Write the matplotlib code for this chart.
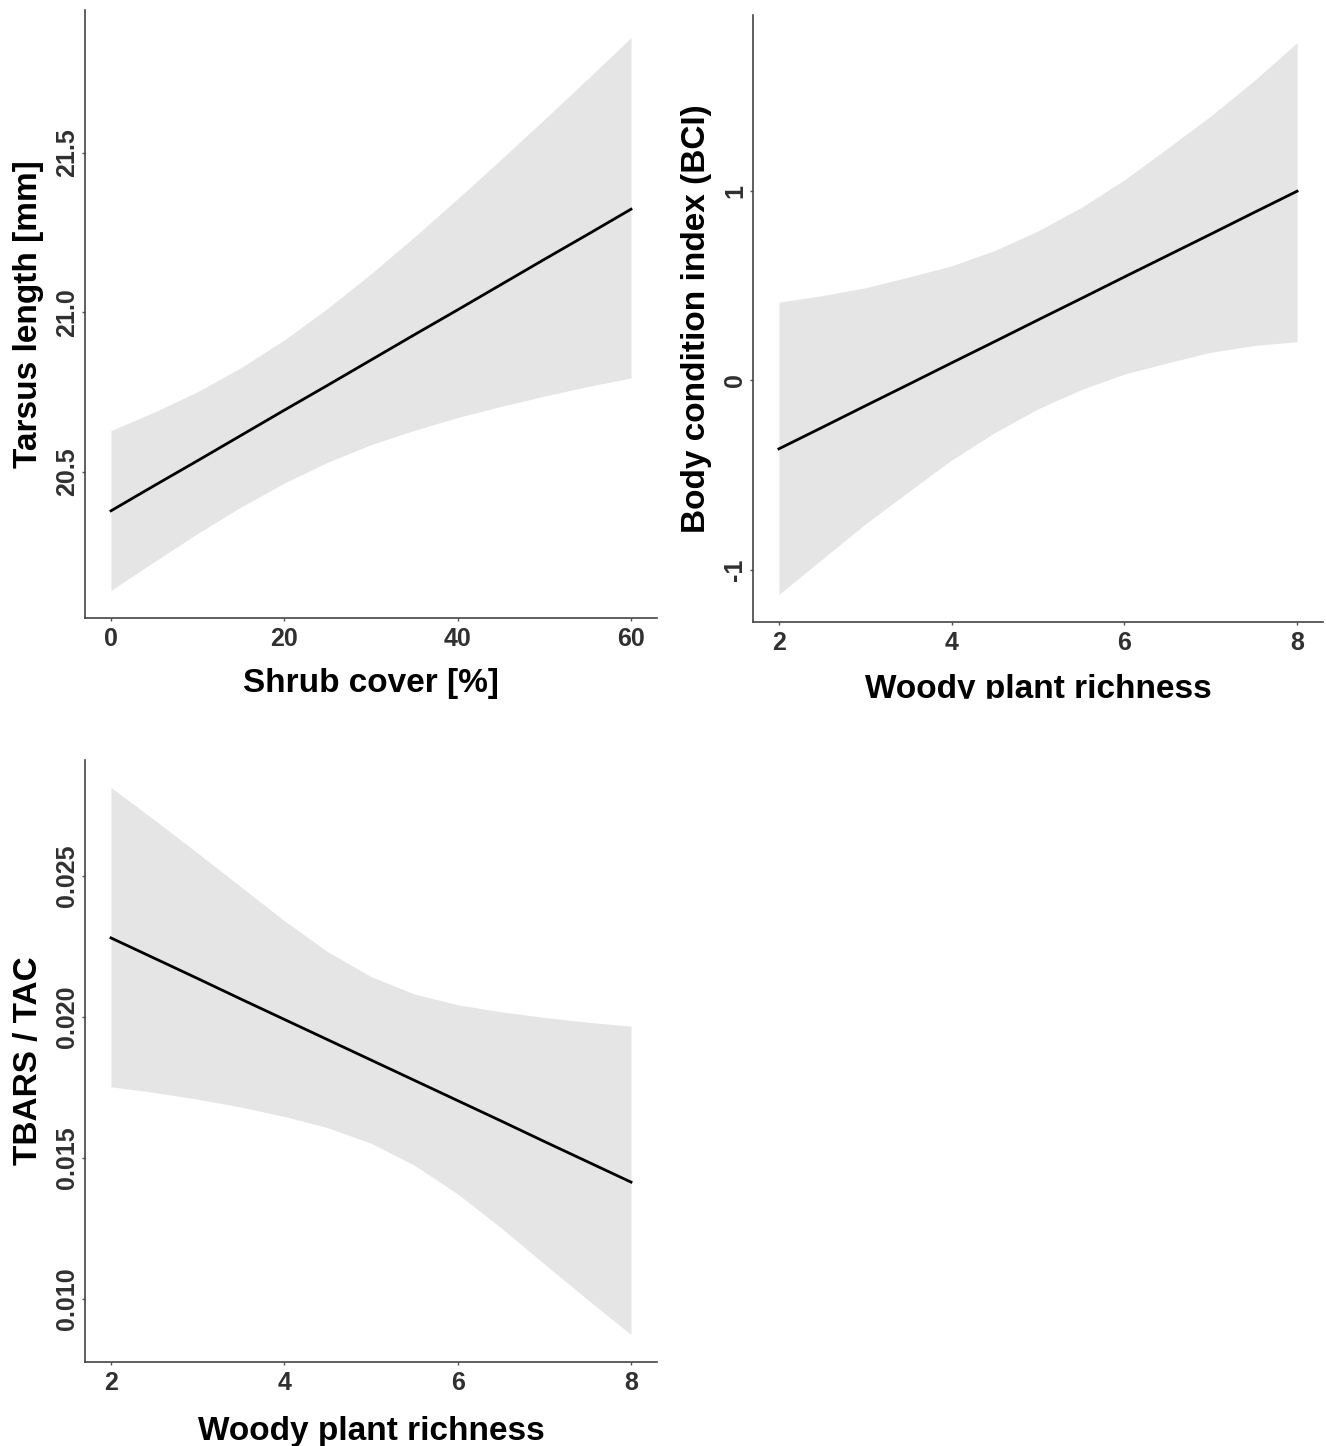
import matplotlib
matplotlib.use("Agg")
import matplotlib.pyplot as plt
from matplotlib.patches import Rectangle

plt.rcParams['font.family'] = ['Liberation Sans', 'DejaVu Sans']
plt.rcParams['font.weight'] = 'bold'

# Panel 1: tarsus length vs shrub cover
shrub_x = [0, 5, 10, 15, 20, 25, 30, 35, 40, 45, 50, 55, 60]
tarsus_fit = [20.379, 20.458, 20.536, 20.615, 20.694, 20.772, 20.851,
              20.930, 21.008, 21.087, 21.166, 21.244, 21.323]
tarsus_upper = [20.630, 20.688, 20.752, 20.827, 20.914, 21.013, 21.121,
                21.236, 21.356, 21.479, 21.604, 21.731, 21.860]
tarsus_lower = [20.130, 20.220, 20.308, 20.391, 20.466, 20.531, 20.586,
                20.631, 20.671, 20.706, 20.738, 20.768, 20.795]

# Panel 2: body condition vs woody plant richness
woody_x = [2, 2.5, 3, 3.5, 4, 4.5, 5, 5.5, 6, 6.5, 7, 7.5, 8]
bci_fit = [-0.361, -0.248, -0.134, -0.021, 0.093, 0.206, 0.320,
           0.433, 0.547, 0.660, 0.773, 0.887, 1.000]
bci_upper = [0.414, 0.448, 0.490, 0.546, 0.606, 0.687, 0.790,
             0.914, 1.060, 1.227, 1.397, 1.583, 1.785]
bci_lower = [-1.130, -0.944, -0.758, -0.588, -0.420, -0.275, -0.150,
             -0.048, 0.034, 0.093, 0.149, 0.185, 0.205]

# Panel 3: TBARS / TAC vs woody plant richness
tbars_fit = [0.02280, 0.02208, 0.02136, 0.02063, 0.01991, 0.01919, 0.01847,
             0.01775, 0.01703, 0.01631, 0.01558, 0.01486, 0.01414]
tbars_upper = [0.02814, 0.02699, 0.02581, 0.02461, 0.02341, 0.02231, 0.02143,
               0.02081, 0.02043, 0.02018, 0.01998, 0.01981, 0.01967]
tbars_lower = [0.01752, 0.01732, 0.01708, 0.01680, 0.01647, 0.01607, 0.01552,
               0.01474, 0.01372, 0.01252, 0.01124, 0.00997, 0.00873]

W, H = 1326, 1446
fig = plt.figure(figsize=(W / 100, H / 100), dpi=100)


def add_axes_px(left, top, right, bottom):
    return fig.add_axes([left / W, 1 - bottom / H, (right - left) / W, (bottom - top) / H])


def style_panel(ax, xticks, yticks, ylabels, xlabel, ylabel, xpad):
    for side in ['top', 'right']:
        ax.spines[side].set_visible(False)
    for side in ['left', 'bottom']:
        ax.spines[side].set_color('#444444')
        ax.spines[side].set_linewidth(1.2)
    ax.set_xticks(xticks)
    ax.set_xticklabels([str(t) for t in xticks])
    ax.set_yticks(yticks)
    ax.set_yticklabels(ylabels, rotation=90, va='center')
    ax.tick_params(length=2.5, width=1, color='#555555', labelsize=18,
                   labelcolor='#303030')
    ax.tick_params(axis='x', pad=4)
    ax.tick_params(axis='y', pad=1.5)
    ax.set_xlabel(xlabel, fontsize=24, fontweight='bold', labelpad=xpad)
    ax.set_ylabel(ylabel, fontsize=24, fontweight='bold', labelpad=8)


band_color = '#e5e5e5'

ax1 = add_axes_px(85, 10, 657, 618)
ax1.fill_between(shrub_x, tarsus_lower, tarsus_upper, color=band_color, lw=0)
ax1.plot(shrub_x, tarsus_fit, color='black', lw=2)
style_panel(ax1, [0, 20, 40, 60], [20.5, 21.0, 21.5], ['20.5', '21.0', '21.5'],
            'Shrub cover [%]', 'Tarsus length [mm]', 12)

ax2 = add_axes_px(753, 15, 1323, 622)
ax2.fill_between(woody_x, bci_lower, bci_upper, color=band_color, lw=0)
ax2.plot(woody_x, bci_fit, color='black', lw=2)
style_panel(ax2, [2, 4, 6, 8], [-1, 0, 1], ['-1', '0', '1'],
            'Woody plant richness', 'Body condition index (BCI)', 13.5)

ax3 = add_axes_px(85, 760, 657, 1362)
ax3.fill_between(woody_x, tbars_lower, tbars_upper, color=band_color, lw=0)
ax3.plot(woody_x, tbars_fit, color='black', lw=2)
style_panel(ax3, [2, 4, 6, 8], [0.010, 0.015, 0.020, 0.025],
            ['0.010', '0.015', '0.020', '0.025'],
            'Woody plant richness', 'TBARS / TAC', 15)

# the right-hand panel was cropped just below its axis title
fig.patches.append(Rectangle((670 / W, 1 - 745 / H), 1 - 670 / W, 46 / H,
                             transform=fig.transFigure, color='white', zorder=10))

fig.savefig('out.png', dpi=100)
